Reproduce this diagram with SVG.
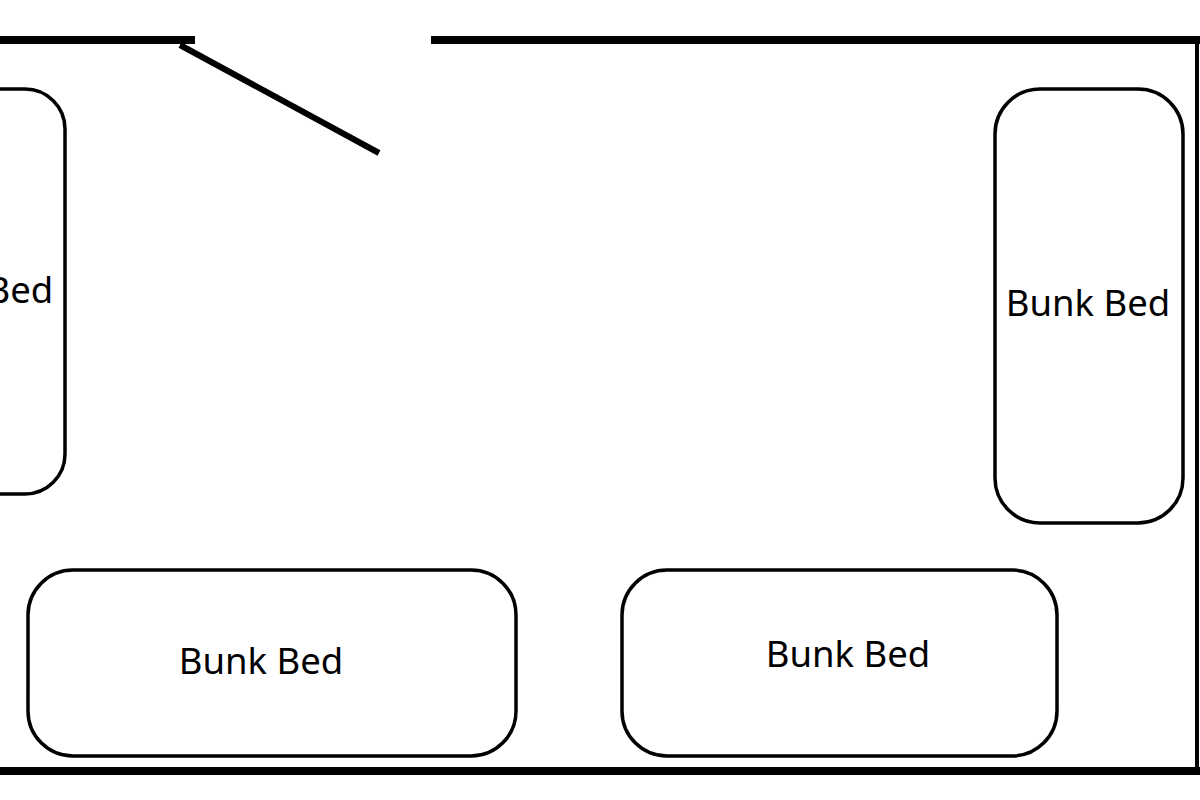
<svg xmlns="http://www.w3.org/2000/svg" width="1200" height="800" viewBox="0 0 1200 800">
<style>
.wall{stroke:#000;stroke-width:8;fill:none}
.bed rect{fill:#fff;stroke:#000;stroke-width:3.5}
.bed text{font-family:"Noto Sans","Open Sans",sans-serif;font-size:36.5px;fill:#000;text-anchor:middle;dominant-baseline:central}
</style>
<rect width="1200" height="800" fill="#fff"/>
<g id="walls">
<line class="wall" x1="0" y1="40" x2="195" y2="40"/>
<line class="wall" x1="431" y1="40" x2="1200" y2="40"/>
<line class="wall" x1="0" y1="771" x2="1200" y2="771"/>
<line x1="1197" y1="40" x2="1197" y2="771" stroke="#000" stroke-width="4"/>
<line x1="180" y1="45" x2="379" y2="153" stroke="#000" stroke-width="6"/>
</g>
<g id="bed-left" class="bed"><rect x="-60" y="89" width="125" height="405" rx="40"/><text x="-29" y="289">Bunk Bed</text></g>
<g id="bed-right" class="bed"><rect x="995" y="89" width="188" height="434" rx="45"/><text x="1088" y="302">Bunk Bed</text></g>
<g id="bed-bottom-left" class="bed"><rect x="28" y="570" width="488" height="186" rx="45"/><text x="261" y="660">Bunk Bed</text></g>
<g id="bed-bottom-right" class="bed"><rect x="622" y="570" width="435" height="186" rx="45"/><text x="848" y="653">Bunk Bed</text></g>
</svg>
